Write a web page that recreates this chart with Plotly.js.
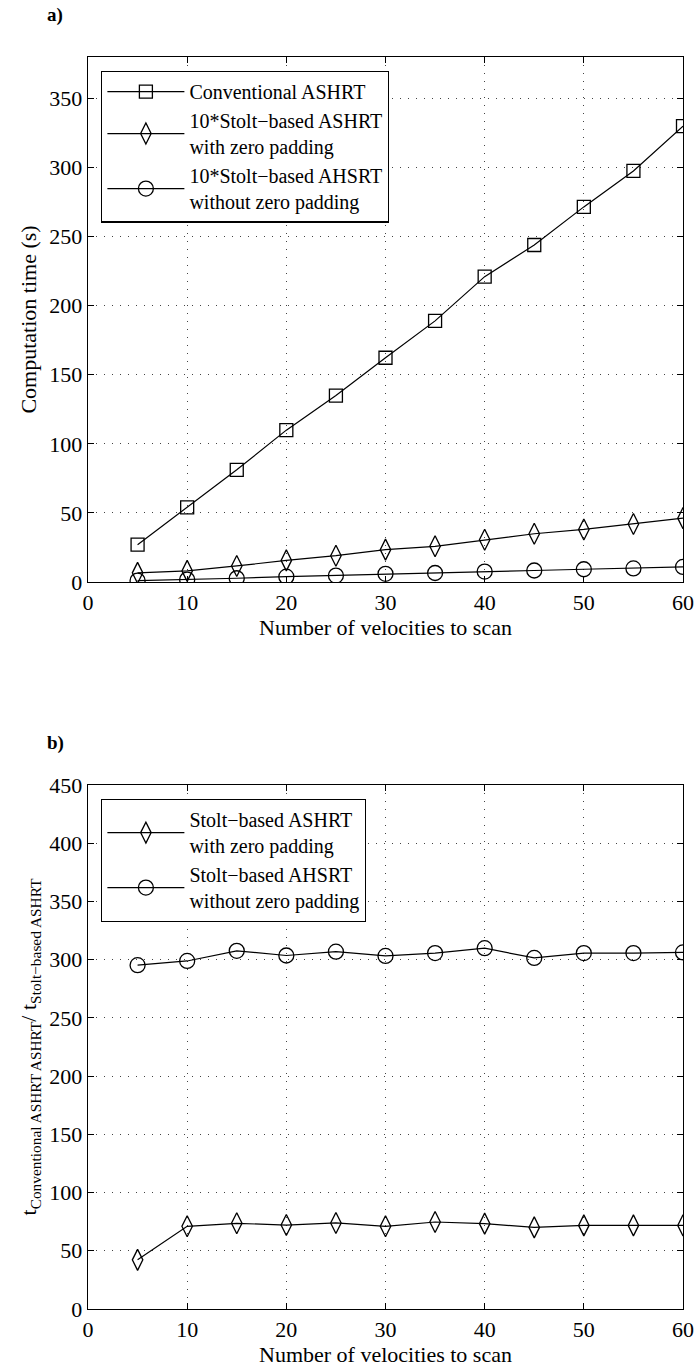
<!DOCTYPE html>
<html>
<head>
<meta charset="utf-8">
<script src="https://cdn.plot.ly/plotly-3.0.1.min.js"></script>
<style>html,body{margin:0;padding:0;background:#fff;}#chart{width:696px;height:1367px;}</style>
</head>
<body>
<div id="chart"></div>
<script>
// ---- data ----
const velocities = [5, 10, 15, 20, 25, 30, 35, 40, 45, 50, 55, 60];
const conventionalTime = [27.0, 54.0, 81.2, 109.9, 134.9, 162.3, 189.0, 221.0, 243.9, 271.5, 297.5, 330.0];
const stoltZeroPadTime10x = [6.6, 8.0, 11.6, 15.6, 19.0, 23.4, 25.8, 30.6, 34.9, 38.0, 42.0, 46.2];
const stoltNoPadTime10x = [1.0, 1.7, 2.7, 3.8, 4.6, 5.9, 6.5, 7.5, 8.3, 9.2, 9.8, 10.9];
const ratioZeroPad = [42.2, 71.0, 73.6, 72.1, 73.9, 71.0, 74.7, 73.3, 70.1, 71.8, 71.8, 71.8];
const ratioNoPad = [295.3, 298.9, 307.6, 303.6, 306.9, 303.2, 305.7, 309.9, 301.5, 305.7, 305.7, 306.2];
const xTicks = [0, 10, 20, 30, 40, 50, 60];
const yTicksTop = [0, 50, 100, 150, 200, 250, 300, 350];
const yTicksBottom = [0, 50, 100, 150, 200, 250, 300, 350, 400, 450];
const namesTop = ["Conventional ASHRT", "10*Stolt\u2212based ASHRT<br>with zero padding", "10*Stolt\u2212based AHSRT<br>without zero padding"];
const namesBottom = ["Stolt\u2212based ASHRT<br>with zero padding", "Stolt\u2212based AHSRT<br>without zero padding"];

const FONT = '"Liberation Serif", "Times New Roman", serif';
const lineStyle = {color: '#000', width: 1.2};
function mk(symbol, size) { return {symbol: symbol, size: size, color: '#000', line: {color: '#000', width: 1.3}}; }

const traces = [
  {x: velocities, y: conventionalTime, name: namesTop[0], mode: 'lines+markers', line: lineStyle, marker: mk('square-open', 13), xaxis: 'x', yaxis: 'y', legend: 'legend'},
  {x: velocities, y: stoltZeroPadTime10x, name: namesTop[1], mode: 'lines+markers', line: lineStyle, marker: mk('diamond-tall-open', 15), xaxis: 'x', yaxis: 'y', legend: 'legend'},
  {x: velocities, y: stoltNoPadTime10x, name: namesTop[2], mode: 'lines+markers', line: lineStyle, marker: mk('circle-open', 15), xaxis: 'x', yaxis: 'y', legend: 'legend'},
  {x: velocities, y: ratioZeroPad, name: namesBottom[0], mode: 'lines+markers', line: lineStyle, marker: mk('diamond-tall-open', 15), xaxis: 'x2', yaxis: 'y2', legend: 'legend2'},
  {x: velocities, y: ratioNoPad, name: namesBottom[1], mode: 'lines+markers', line: lineStyle, marker: mk('circle-open', 15), xaxis: 'x2', yaxis: 'y2', legend: 'legend2'}
];

function xAxis(anchor) {
  return {
    anchor: anchor, domain: [0, 1], range: [0, 60], tickvals: xTicks,
    showline: true, linecolor: '#000', linewidth: 1.3, mirror: 'ticks',
    ticks: 'inside', ticklen: 6, tickcolor: '#000', tickwidth: 1,
    showgrid: true, gridcolor: '#444', gridwidth: 1, griddash: '1px,7px',
    zeroline: false, tickfont: {family: FONT, size: 22, color: '#000'},
    title: {text: 'Number of velocities to scan', font: {family: FONT, size: 22, color: '#000'}, standoff: 2}
  };
}
function yAxis(anchor, domain, range, ticks, titleText) {
  return {
    anchor: anchor, domain: domain, range: range, tickvals: ticks,
    showline: true, linecolor: '#000', linewidth: 1.3, mirror: 'ticks',
    ticks: 'inside', ticklen: 6, tickcolor: '#000', tickwidth: 1,
    showgrid: true, gridcolor: '#444', gridwidth: 1, griddash: '1px,7px',
    zeroline: false, tickfont: {family: FONT, size: 22, color: '#000'},
    title: {text: titleText, font: {family: FONT, size: 22, color: '#000'}, standoff: 6}
  };
}
function legendBox(y) {
  return {
    x: 0.022, y: y, xanchor: 'left', yanchor: 'top',
    bgcolor: '#fff', bordercolor: '#000', borderwidth: 1.3,
    font: {family: FONT, size: 20, color: '#000'}, itemwidth: 77, tracegroupgap: 0, valign: 'middle'
  };
}

const layout = {
  width: 696, height: 1367,
  margin: {l: 88, r: 13, t: 57, b: 58},
  paper_bgcolor: '#fff', plot_bgcolor: '#fff',
  font: {family: FONT, size: 22, color: '#000'},
  showlegend: true,
  xaxis: xAxis('y'),
  xaxis2: xAxis('y2'),
  yaxis: yAxis('x', [0.5807, 1], [0, 380], yTicksTop, 'Computation time (s)'),
  yaxis2: yAxis('x2', [0, 0.4185], [0, 450], yTicksBottom, 't<sub>Conventional ASHRT ASHRT</sub>/ t<sub>Stolt\u2212based ASHRT</sub>'),
  legend: legendBox(0.989),
  legend2: legendBox(0.4075),
  annotations: [
    {text: '<b>a)</b>', xref: 'paper', yref: 'paper', x: -0.073, y: 1.0335, xanchor: 'left', yanchor: 'middle', showarrow: false, font: {family: FONT, size: 19, color: '#000'}},
    {text: '<b>b)</b>', xref: 'paper', yref: 'paper', x: -0.073, y: 0.4521, xanchor: 'left', yanchor: 'middle', showarrow: false, font: {family: FONT, size: 19, color: '#000'}}
  ]
};

Plotly.newPlot('chart', traces, layout, {displayModeBar: false, staticPlot: true});
</script>
</body>
</html>
